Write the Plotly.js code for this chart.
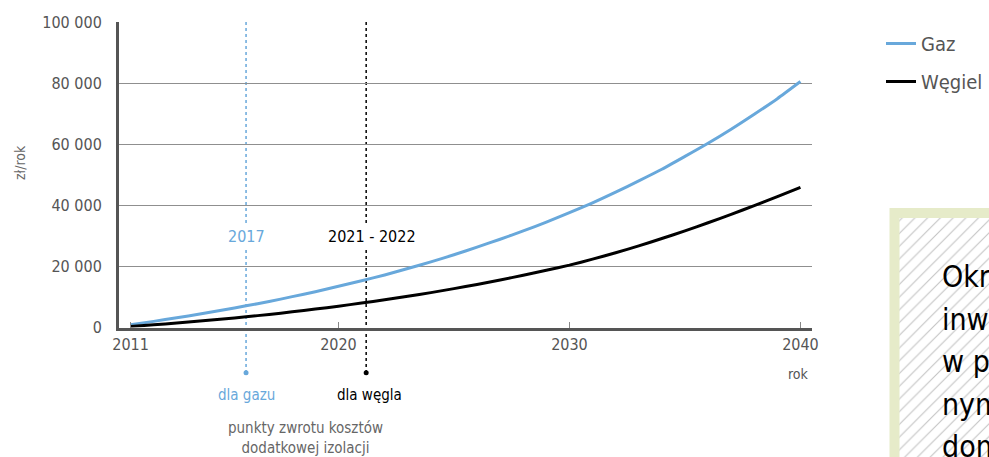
<!DOCTYPE html>
<html>
<head>
<meta charset="utf-8">
<script src="https://cdn.plot.ly/plotly-3.0.1.min.js"></script>
<style>
  html, body { margin: 0; padding: 0; background: #fff; overflow: hidden; }
  #chart { width: 989px; height: 457px; }
</style>
</head>
<body>
<div id="chart"></div>
<script>
// Yearly heating cost difference (zł/rok) for gas and coal heating
const years = [2011, 2012, 2013, 2014, 2015, 2016, 2017, 2018, 2019, 2020,
               2021, 2022, 2023, 2024, 2025, 2026, 2027, 2028, 2029, 2030,
               2031, 2032, 2033, 2034, 2035, 2036, 2037, 2038, 2039, 2040];
const gasCost = [900, 2000, 3200, 4400, 5700, 7100, 8500, 10100, 11700, 13500,
                 15300, 17200, 19300, 21500, 23800, 26300, 28900, 31600, 34500, 37600,
                 40800, 44300, 48000, 51800, 56000, 60300, 64900, 69800, 74900, 80500];
const coalCost = [300, 860, 1460, 2100, 2780, 3500, 4280, 5120, 6020, 6980,
                  8000, 9060, 10200, 11420, 12720, 14100, 15560, 17100, 18720, 20420,
                  22370, 24470, 26720, 29120, 31640, 34280, 37040, 39900, 42840, 45840];
const seriesNames = ["Gaz", "Węgiel"];
const xTickVals = [2011, 2020, 2030, 2040];
const yTickVals = [0, 20000, 40000, 60000, 80000, 100000];

// Payback points of the extra insulation
const paybackYears = [2016, 2021.2];
const paybackLabels = ["2017", "2021 - 2022"];
const paybackFuel = ["dla gazu", "dla węgla"];
const paybackNote = ["punkty zwrotu kosztów", "dodatkowej izolacji"];

// Side note box text
const noteLines = ["Okres zwrotu", "inwestycji", "w porównaniu", "nym ocieplaniem", "domu"];

const W = 989, H = 457;
const px = x => x / W;
const py = y => 1 - y / H;

const FONT = '"DejaVu Sans Condensed", "Liberation Sans Narrow", Roboto, sans-serif';
const BLUE = "#68a8db";
const GRAY_TEXT = "#555555";

const traces = [
  {
    // hatched panel behind the side note (page-pixel axes)
    x: [899, 1000, 1000, 899, 899],
    y: [218, 218, 470, 470, 218],
    xaxis: "x2", yaxis: "y2",
    mode: "lines", fill: "toself",
    line: { width: 0, color: "rgba(0,0,0,0)" },
    fillcolor: "#ffffff",
    fillpattern: { shape: "/", size: 9, solidity: 0.12, fgcolor: "#c4c4c4", bgcolor: "#ffffff" },
    hoverinfo: "skip", showlegend: false
  },
  {
    x: years, y: gasCost, name: seriesNames[0], legendgroup: "g1",
    mode: "lines", line: { color: BLUE, width: 3, shape: "spline", smoothing: 0.6 }
  },
  {
    x: years, y: coalCost, name: seriesNames[1], legendgroup: "g2",
    mode: "lines", line: { color: "#000000", width: 3, shape: "spline", smoothing: 0.6 }
  }
];

const shapes = [];
const annotations = [];
const paybackColors = [BLUE, "#000000"];
paybackYears.forEach((yr, i) => {
  shapes.push({
    type: "line", xref: "x", yref: "paper",
    x0: yr, x1: yr, y0: py(22), y1: py(372.7),
    line: { color: paybackColors[i], width: 1.5, dash: "dot" }, layer: "below"
  });
  shapes.push({
    type: "circle", xref: "x", yref: "paper",
    xsizemode: "pixel", ysizemode: "pixel",
    xanchor: yr, yanchor: py(372.7),
    x0: -2.5, x1: 2.5, y0: -2.5, y1: 2.5,
    fillcolor: paybackColors[i], line: { width: 0 }
  });
  annotations.push({
    xref: "x", yref: "paper", x: yr, xshift: i === 0 ? 0 : 5.5,
    y: py(236.7), xanchor: "center", yanchor: "middle",
    text: paybackLabels[i], showarrow: false, bgcolor: "#ffffff",
    font: { family: FONT, size: 16, color: paybackColors[i] }
  });
  annotations.push({
    xref: "x", yref: "paper", x: yr, xshift: i === 0 ? 0 : 3,
    y: py(395), xanchor: "center", yanchor: "middle",
    text: paybackFuel[i], showarrow: false,
    font: { family: FONT, size: 15, color: paybackColors[i] }
  });
});

annotations.push({
  xref: "paper", yref: "paper", x: px(305.7), y: py(438),
  xanchor: "center", yanchor: "middle",
  text: paybackNote.join("<br>"), showarrow: false,
  font: { family: FONT, size: 15, color: "#666666" }
});
annotations.push({
  xref: "paper", yref: "paper", x: px(20), y: py(163),
  xanchor: "center", yanchor: "middle",
  text: "zł/rok", textangle: -90, showarrow: false,
  font: { family: FONT, size: 14, color: "#666666" }
});
annotations.push({
  xref: "paper", yref: "paper", x: px(811), xanchor: "right",
  y: py(374), yanchor: "middle",
  text: "rok", showarrow: false,
  font: { family: FONT, size: 14, color: GRAY_TEXT }
});
// Side note, one line at a time so the leading matches the panel
noteLines.forEach((line, i) => {
  annotations.push({
    xref: "paper", yref: "paper", x: px(940), xanchor: "left",
    y: py(276.7 + i * 42.5), yanchor: "middle", align: "left",
    text: line, showarrow: false,
    font: { family: FONT, size: 30, color: "#000000" }
  });
});

// Side note border
shapes.push({
  type: "rect", xref: "paper", yref: "paper",
  x0: px(894.5), x1: px(1010), y0: py(213), y1: py(480),
  line: { color: "#e6ebc9", width: 10 }, fillcolor: "rgba(0,0,0,0)"
});

const layout = {
  width: W, height: H,
  margin: { l: 0, r: 0, t: 0, b: 0, autoexpand: false },
  paper_bgcolor: "#ffffff",
  plot_bgcolor: "rgba(0,0,0,0)",
  separators: ". ",
  font: { family: FONT, color: GRAY_TEXT },
  showlegend: true,
  legend: {
    x: px(881), xanchor: "left", y: py(24), yanchor: "top",
    bgcolor: "rgba(0,0,0,0)", tracegroupgap: 9,
    font: { family: FONT, size: 20, color: GRAY_TEXT }
  },
  xaxis: {
    domain: [px(119), px(812)], range: [2010.5, 2040.5], anchor: "y",
    showline: true, linecolor: "#555555", linewidth: 3,
    showgrid: false, zeroline: false,
    ticks: "inside", ticklen: 6, tickwidth: 1, tickcolor: "#888888",
    tickvals: xTickVals, tickfont: { family: FONT, size: 16, color: GRAY_TEXT }
  },
  yaxis: {
    domain: [py(327.5), py(22)], range: [0, 100000], anchor: "x",
    showline: true, linecolor: "#555555", linewidth: 3,
    showgrid: true, gridcolor: "#8f8f8f", gridwidth: 1.2, zeroline: false,
    ticks: "outside", ticklen: 11, tickcolor: "rgba(0,0,0,0)",
    tickvals: yTickVals, tickformat: ",d",
    tickfont: { family: FONT, size: 16, color: GRAY_TEXT }
  },
  xaxis2: { domain: [0, 1], range: [0, W], anchor: "y2", visible: false, fixedrange: true },
  yaxis2: { domain: [0, 1], range: [H, 0], anchor: "x2", visible: false, fixedrange: true },
  shapes: shapes,
  annotations: annotations
};

Plotly.newPlot("chart", traces, layout, { staticPlot: true, displayModeBar: false });
</script>
</body>
</html>
